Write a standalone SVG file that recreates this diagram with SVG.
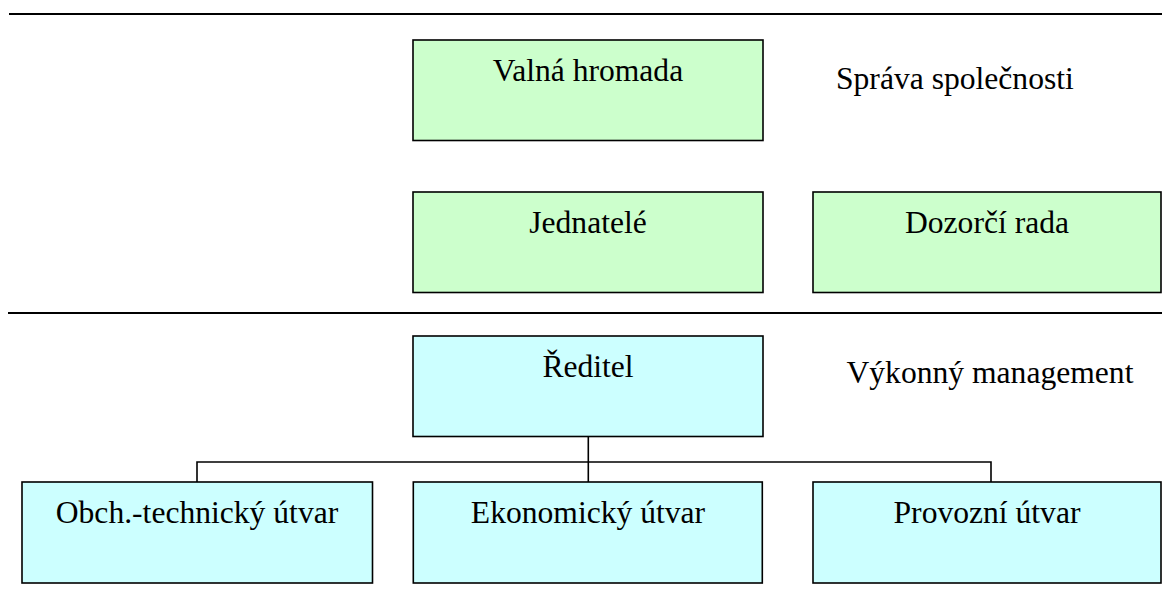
<svg xmlns="http://www.w3.org/2000/svg" width="1162" height="600" viewBox="0 0 1162 600">
<style>
.box{stroke:#000;stroke-width:1.6}
.g{fill:#CCFFCC}
.c{fill:#CCFFFF}
.t{font-size:31.6px;fill:#000}
.m{text-anchor:middle}
.ln{stroke:#000;stroke-width:2;fill:none}
.cn{stroke:#000;stroke-width:1.6;fill:none}
</style>
<rect width="1162" height="600" fill="#fff"/>
<g id="separators">
<line class="ln" x1="9" y1="14" x2="1162" y2="14"/>
<line class="ln" x1="8" y1="313" x2="1162" y2="313"/>
</g>
<g id="connectors">
<line class="cn" x1="588.3" y1="436.5" x2="588.3" y2="482"/>
<polyline class="cn" points="197,482 197,462 991,462 991,482"/>
</g>
<g font-family="'Liberation Serif', 'Times New Roman', serif">
<g id="valna-hromada">
<rect class="box g" x="413" y="40" width="350" height="100.5"/>
<text class="t m" x="588" y="80.5">Valná hromada</text>
</g>
<g id="sprava-label">
<text class="t" x="836" y="89">Správa společnosti</text>
</g>
<g id="jednatele">
<rect class="box g" x="413" y="192" width="350" height="100.5"/>
<text class="t m" x="588" y="232.7">Jednatelé</text>
</g>
<g id="dozorci-rada">
<rect class="box g" x="813" y="192" width="348" height="100.5"/>
<text class="t m" x="987" y="232.7">Dozorčí rada</text>
</g>
<g id="reditel">
<rect class="box c" x="413" y="336" width="350" height="100.5"/>
<text class="t m" x="588" y="377">Ředitel</text>
</g>
<g id="vykonny-label">
<text class="t" x="846.5" y="383.3">Výkonný management</text>
</g>
<g id="obch-technicky">
<rect class="box c" x="22" y="482" width="350.5" height="101"/>
<text class="t m" x="197" y="523">Obch.-technický útvar</text>
</g>
<g id="ekonomicky">
<rect class="box c" x="413.3" y="482" width="349" height="101"/>
<text class="t m" x="588" y="523">Ekonomický útvar</text>
</g>
<g id="provozni">
<rect class="box c" x="813" y="482" width="348" height="101"/>
<text class="t m" x="987" y="523">Provozní útvar</text>
</g>
</g>
</svg>
